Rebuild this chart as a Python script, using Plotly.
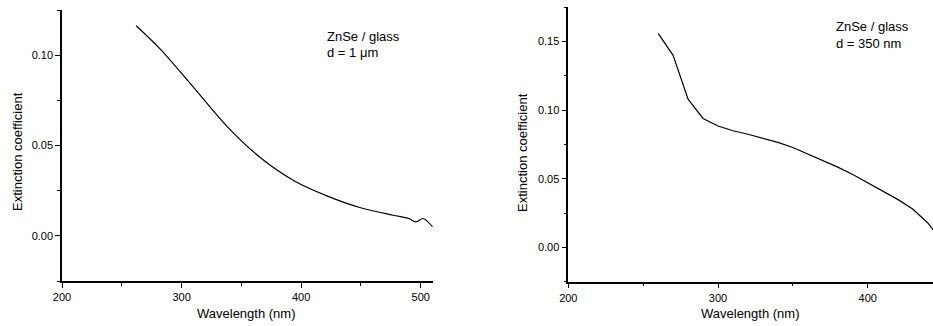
import plotly.graph_objects as go

# Left panel: ZnSe / glass, d = 1 µm
wl_1um = [262, 282, 310, 338, 366, 394, 422, 449, 477, 490, 496, 502, 510]
k_1um = [0.1163, 0.1035, 0.0822, 0.0606, 0.0432, 0.0305, 0.0220, 0.0157, 0.0114,
         0.0096, 0.0077, 0.0096, 0.0049]

# Right panel: ZnSe / glass, d = 350 nm
wl_350 = [260, 270, 280, 290, 300, 310, 320, 330, 340, 350, 360, 370, 380, 390,
          400, 410, 420, 430, 436, 440, 444]
k_350 = [0.156, 0.140, 0.108, 0.094, 0.0885, 0.085, 0.0825, 0.0795, 0.0765, 0.0728,
         0.068, 0.0635, 0.0585, 0.0532, 0.047, 0.041, 0.035, 0.028, 0.022, 0.018, 0.0125]

W, H = 933, 326
FONT = "Liberation Sans, Arial, sans-serif"

fig = go.Figure()
fig.add_trace(go.Scatter(x=wl_1um, y=k_1um, mode="lines",
                         line=dict(color="black", width=1.2, shape="spline", smoothing=0.8),
                         xaxis="x", yaxis="y"))
fig.add_trace(go.Scatter(x=wl_350, y=k_350, mode="lines",
                         line=dict(color="black", width=1.2), xaxis="x2", yaxis="y2"))

def xax(domain, rng):
    return dict(domain=domain, range=rng, showgrid=False, zeroline=False,
                showline=True, linecolor="black", linewidth=1.5,
                ticks="outside", ticklen=5, tickwidth=1, tickcolor="black",
                tick0=200, dtick=100, automargin=False,
                tickfont=dict(family=FONT, size=11, color="black"),
                minor=dict(ticks="outside", ticklen=3, dtick=50, tick0=200,
                           tickcolor="black", showgrid=False))

def yax(domain, rng, anchor):
    return dict(domain=domain, range=rng, anchor=anchor, showgrid=False, zeroline=False,
                showline=True, linecolor="black", linewidth=1.5,
                ticks="outside", ticklen=5, tickwidth=1, tickcolor="black",
                tick0=0, dtick=0.05, tickformat=".2f", automargin=False,
                tickfont=dict(family=FONT, size=11, color="black"),
                minor=dict(ticks="outside", ticklen=3, dtick=0.025, tick0=0,
                           tickcolor="black", showgrid=False))

fig.update_layout(
    width=W, height=H,
    margin=dict(l=0, r=0, t=0, b=0),
    paper_bgcolor="white", plot_bgcolor="white",
    showlegend=False,
    xaxis=dict(**xax([62 / W, 432.7 / W], [200, 510]), anchor="y"),
    yaxis=yax([1 - 281 / H, 1 - 10 / H], [-0.025, 0.125], "x"),
    xaxis2=dict(**xax([568.3 / W, 1.0], [200, 443.6]), anchor="y2"),
    yaxis2=yax([1 - 281.7 / H, 1 - 7.3 / H], [-0.025, 0.175], "x2"),
)

def ann(text, x, y, xanchor="left", angle=0):
    fig.add_annotation(text=text, x=x / W, y=1 - y / H, xref="paper", yref="paper",
                       xanchor=xanchor, yanchor="middle", showarrow=False,
                       textangle=angle, font=dict(family=FONT, size=13, color="black"))

# axis titles
ann("Wavelength (nm)", 247, 313, "center")
ann("Wavelength (nm)", 750, 313, "center")
ann("Extinction coefficient", 17, 152, "center", -90)
ann("Extinction coefficient", 523, 153, "center", -90)

# panel labels
ann("ZnSe / glass", 325, 36)
ann("d = 1 \u03bcm", 325, 53)
ann("ZnSe / glass", 834, 27)
ann("d = 350 nm", 834, 43)

fig.write_html("out.html")
